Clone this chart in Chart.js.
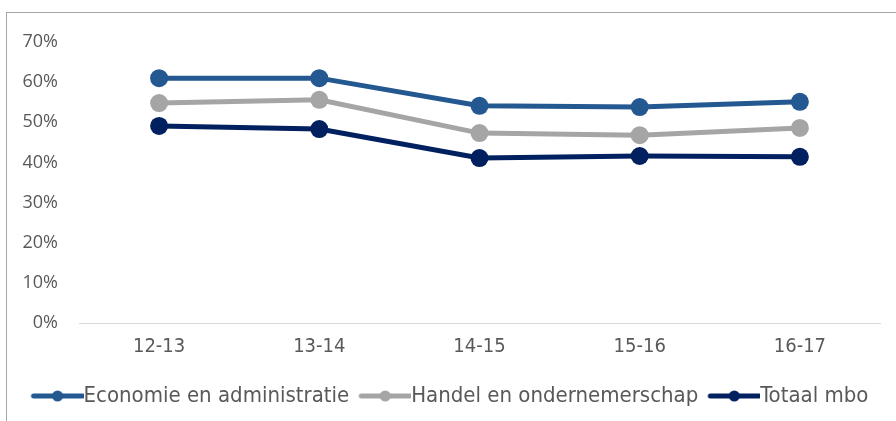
<!DOCTYPE html>
<html>
<head>
  <meta charset="utf-8">
  <script src="https://cdn.jsdelivr.net/npm/chart.js"></script>
  <style>
    html, body { margin: 0; padding: 0; background: #fff; overflow: hidden; }
    #wrap { position: relative; width: 896px; height: 421px; }
    #frame {
      position: absolute; left: 6px; top: 12px; width: 1000px; height: 1000px;
      border: 1px solid #a6a6a6; pointer-events: none;
    }
    #chart { position: absolute; left: 0; top: 0; }
  </style>
</head>
<body>
<div id="wrap">
  <div id="frame"></div>
  <canvas id="chart" width="896" height="421"></canvas>
</div>
<script>
  const years = ['12-13', '13-14', '14-15', '15-16', '16-17'];
  const economie = [61.0, 61.0, 54.1, 53.8, 55.1];
  const handel = [54.8, 55.6, 47.3, 46.8, 48.6];
  const totaal = [49.1, 48.3, 41.1, 41.6, 41.4];
  const yTicks = [0, 10, 20, 30, 40, 50, 60, 70];

  const textColor = '#595959';

  // legend marker: short thick line with a small dot, drawn into its own canvas
  function marker(color) {
    const c = document.createElement('canvas');
    c.width = 63; c.height = 14;
    const g = c.getContext('2d');
    g.strokeStyle = color;
    g.lineWidth = 5;
    g.lineCap = 'round';
    g.beginPath();
    g.moveTo(13, 7);
    g.lineTo(62, 7);
    g.stroke();
    g.fillStyle = color;
    g.beginPath();
    g.arc(37, 7, 5.5, 0, Math.PI * 2);
    g.fill();
    return c;
  }

  function series(label, data, color) {
    return {
      label: label,
      data: data,
      borderColor: color,
      backgroundColor: color,
      borderWidth: 5,
      pointRadius: 9,
      pointHoverRadius: 9,
      pointBorderWidth: 0,
      pointBackgroundColor: color,
      tension: 0,
      fill: false
    };
  }

  // nudge the legend a little to the right, like the original
  const legendShift = {
    id: 'legendShift',
    afterLayout(chart) {
      chart.legend.left += 10;
      chart.legend.right += 10;
    }
  };

  const ctx = document.getElementById('chart').getContext('2d');
  new Chart(ctx, {
    type: 'line',
    data: {
      labels: years,
      datasets: [
        series('Economie en administratie', economie, '#245891'),
        series('Handel en ondernemerschap', handel, '#a5a5a5'),
        series('Totaal mbo', totaal, '#00205f')
      ]
    },
    plugins: [legendShift],
    options: {
      responsive: false,
      animation: false,
      layout: { padding: { left: 0, right: 16, top: 42, bottom: 4 } },
      plugins: {
        tooltip: { enabled: false },
        legend: {
          position: 'bottom',
          labels: {
            usePointStyle: true,
            pointStyleWidth: 41,
            padding: 10,
            color: textColor,
            font: { family: 'DejaVu Sans Condensed', size: 22 },
            generateLabels(chart) {
              const items = Chart.defaults.plugins.legend.labels.generateLabels(chart);
              items.forEach((it, i) => {
                it.pointStyle = marker(chart.data.datasets[i].borderColor);
              });
              return items;
            }
          }
        }
      },
      scales: {
        x: {
          offset: true,
          afterFit(scale) { scale.height += 12; },
          grid: { display: false, offset: true },
          border: { display: true, color: '#d9d9d9', width: 1 },
          ticks: {
            color: textColor,
            padding: 4,
            font: { family: 'DejaVu Sans Condensed', size: 20 }
          }
        },
        y: {
          min: 0,
          max: 70,
          afterFit(scale) { scale.width = 79; },
          afterBuildTicks(scale) { scale.ticks = yTicks.map(v => ({ value: v })); },
          grid: { display: false },
          border: { display: false },
          ticks: {
            color: textColor,
            padding: 13,
            font: { family: 'Open Sans', size: 18 },
            callback: v => v + '%'
          }
        }
      }
    }
  });
</script>
</body>
</html>
